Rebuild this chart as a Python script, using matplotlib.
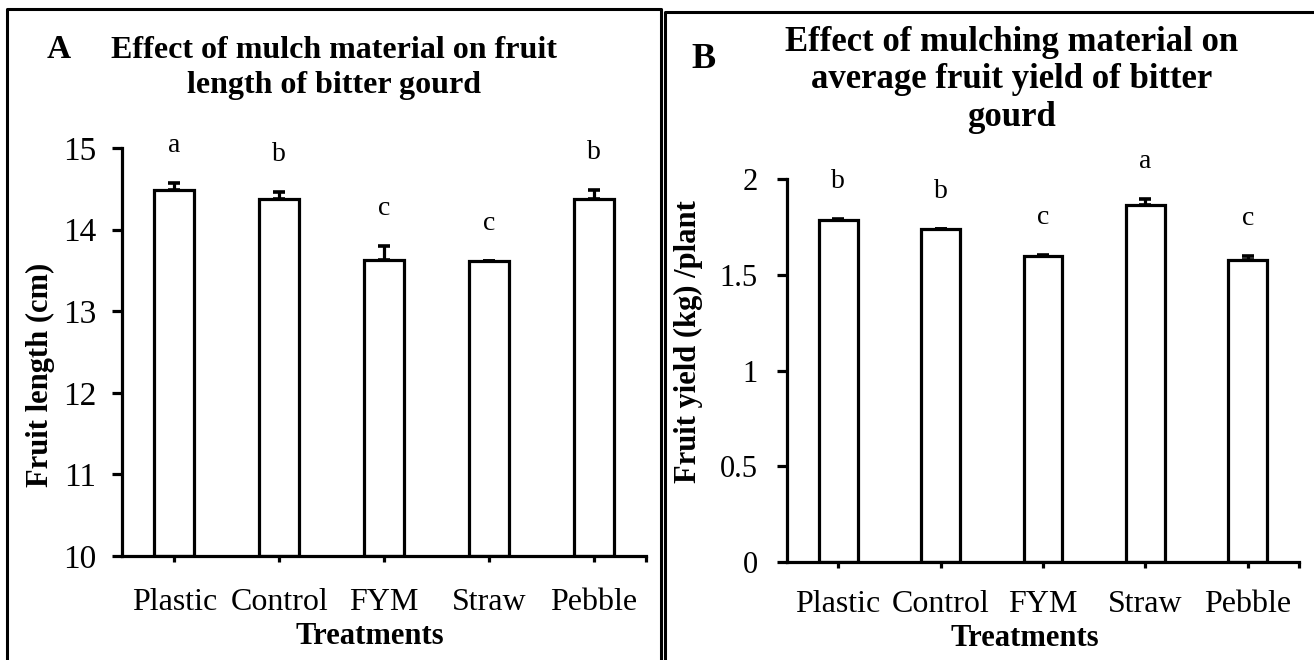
import numpy as np
import matplotlib
matplotlib.use("Agg")
import matplotlib.pyplot as plt
from matplotlib.lines import Line2D

plt.rcParams['font.family'] = ['Liberation Serif', 'DejaVu Serif']

treatments = ["Plastic", "Control", "FYM", "Straw", "Pebble"]

# panel A: fruit length (cm)
length_mean = [14.48, 14.37, 13.63, 13.61, 14.37]
length_err = [0.09, 0.09, 0.17, 0.0, 0.11]
length_letters = ["a", "b", "c", "c", "b"]

# panel B: fruit yield (kg) per plant
yield_mean = [1.785, 1.74, 1.598, 1.862, 1.578]
yield_err = [0.006, 0.0, 0.006, 0.035, 0.018]
yield_letters = ["b", "b", "c", "a", "c"]

W, H = 1314, 660
fig = plt.figure(figsize=(W / 100, H / 100), dpi=100)


def px_axes(left, top, right, bottom):
    return fig.add_axes([left / W, 1 - bottom / H, (right - left) / W, (bottom - top) / H])


def draw_panel(ax, means, errs, letters, ylim, yticks, yticklabels, ysize, ypad, xpad):
    x = np.arange(len(treatments))
    ax.bar(x, np.array(means) - ylim[0], bottom=ylim[0], width=0.38,
           color="white", edgecolor="black", linewidth=2.3, zorder=2)
    ax.errorbar(x, means, yerr=[np.zeros(len(errs)), errs], fmt="none",
                ecolor="black", elinewidth=2.3, capsize=4.5, capthick=2.6, zorder=3)
    for xi, m, e, lab in zip(x, means, errs, letters):
        ax.annotate(lab, (xi, m + e), xytext=(0, 27), textcoords="offset points",
                    ha="center", va="center", fontsize=20, annotation_clip=False)
    ax.set_xlim(-0.5, 4.5)
    ax.set_ylim(*ylim)
    ax.set_yticks(yticks)
    ax.set_yticklabels(yticklabels)
    ax.set_xticks(x)
    ax.set_xticklabels(treatments)
    ax.set_xticks([4.5], minor=True)
    for s in ("top", "right"):
        ax.spines[s].set_visible(False)
    for s in ("left", "bottom"):
        ax.spines[s].set_linewidth(2.3)
    ax.tick_params(axis="y", direction="out", length=7, width=2.3, pad=ypad, labelsize=ysize)
    ax.tick_params(axis="x", which="both", direction="out", length=4.5, width=2.3,
                   pad=xpad, labelsize=23)


axA = px_axes(122, 148, 646, 556)
draw_panel(axA, length_mean, length_err, length_letters, (10, 15),
           [10, 11, 12, 13, 14, 15], ["10", "11", "12", "13", "14", "15"],
           ysize=24, ypad=11.5, xpad=18.5)

axB = px_axes(787, 179, 1299, 562)
draw_panel(axB, yield_mean, yield_err, yield_letters, (0, 2),
           [0, 0.5, 1, 1.5, 2], ["0", "0.5", "1", "1.5", "2"],
           ysize=22, ypad=14, xpad=16)


def ftext(x, y, s, **kw):
    fig.text(x / W, 1 - y / H, s, **kw)


# titles and panel letters
ftext(59, 50, "A", fontsize=24, fontweight="bold", ha="center", va="center")
ftext(334, 68, "Effect of mulch material on fruit\nlength of bitter gourd",
      fontsize=23, fontweight="bold", ha="center", va="center", linespacing=1.25)
ftext(704, 59, "B", fontsize=26, fontweight="bold", ha="center", va="center")
ftext(1012, 80, "Effect of mulching material on\naverage fruit yield of bitter\ngourd",
      fontsize=25, fontweight="bold", ha="center", va="center", linespacing=1.18)

# axis labels
ftext(40, 375, "Fruit length (cm)", fontsize=22, fontweight="bold",
      rotation=90, ha="center", va="center")
ftext(688, 342, "Fruit yield (kg) /plant", fontsize=22, fontweight="bold",
      rotation=90, ha="center", va="center")
ftext(370, 637, "Treatments", fontsize=22, fontweight="bold", ha="center", va="center")
ftext(1025, 638, "Treatments", fontsize=22, fontweight="bold", ha="center", va="center")

# panel frames
frame = dict(color="black", linewidth=2.2, transform=fig.transFigure)
fig.add_artist(Line2D([7 / W, 7 / W, 661 / W, 661 / W],
                      [0, 1 - 9 / H, 1 - 9 / H, 0], **frame))
fig.add_artist(Line2D([665 / W, 665 / W, 1], [0, 1 - 12 / H, 1 - 12 / H], **frame))

fig.savefig("out.png", dpi=100)
